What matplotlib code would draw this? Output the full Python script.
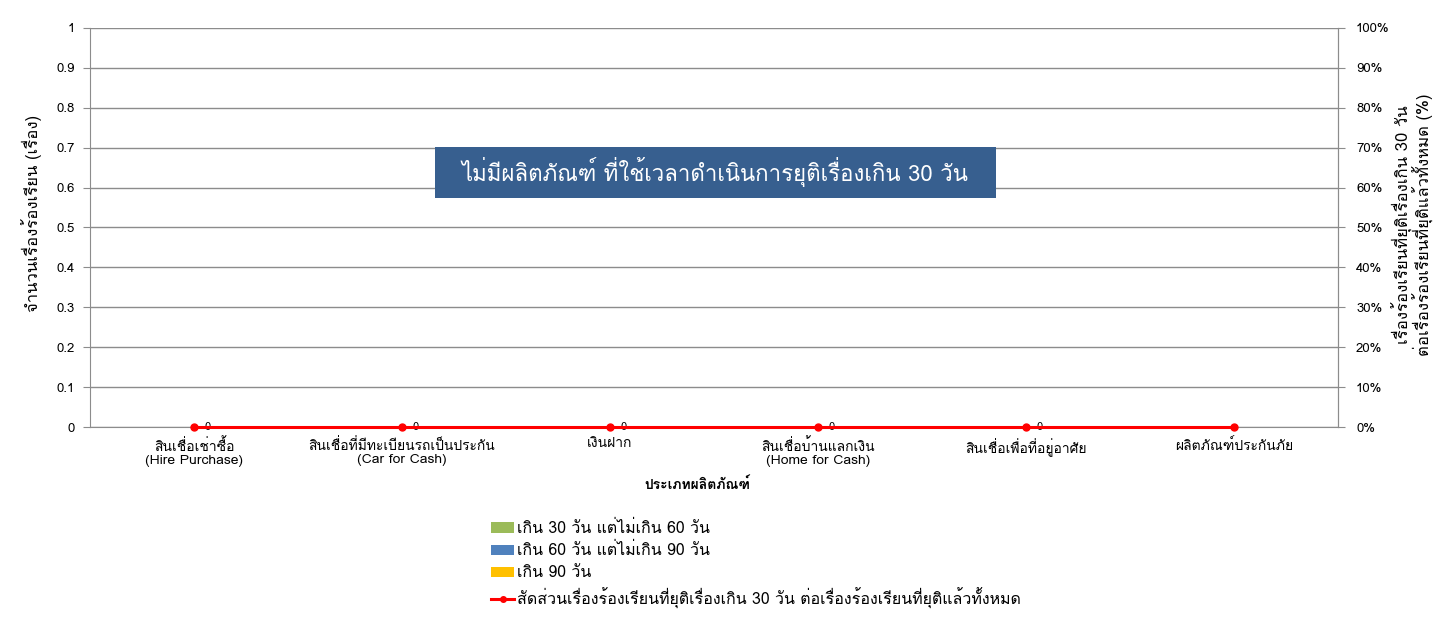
import matplotlib
matplotlib.use("Agg")
import matplotlib.pyplot as plt
import numpy as np
from matplotlib.patches import Patch, Rectangle
from matplotlib.lines import Line2D
from matplotlib.ticker import PercentFormatter, MultipleLocator, FuncFormatter

plt.rcParams['font.family'] = ['Loma', 'DejaVu Sans']

# ---- data ----
categories = [
    "สินเชื่อเช่าซื้อ\n(Hire Purchase)",
    "สินเชื่อที่มีทะเบียนรถเป็นประกัน\n(Car for Cash)",
    "เงินฝาก",
    "สินเชื่อบ้านแลกเงิน\n(Home for Cash)",
    "สินเชื่อเพื่อที่อยู่อาศัย",
    "ผลิตภัณฑ์ประกันภัย",
]
over_30_to_60 = [0, 0, 0, 0, 0, 0]
over_60_to_90 = [0, 0, 0, 0, 0, 0]
over_90 = [0, 0, 0, 0, 0, 0]
ratio_over_30 = [0, 0, 0, 0, 0, 0]
ratio_labels = ["0", "0", "0", "0", "0", ""]

series_names = ["เกิน 30 วัน แต่ไม่เกิน 60 วัน", "เกิน 60 วัน แต่ไม่เกิน 90 วัน", "เกิน 90 วัน"]
ratio_name = "สัดส่วนเรื่องร้องเรียนที่ยุติเรื่องเกิน 30 วัน ต่อเรื่องร้องเรียนที่ยุติแล้วทั้งหมด"
bar_colors = ['#9BBB59', '#4F81BD', '#FFC000']
grid_col = '#8C8C8C'

fig = plt.figure(figsize=(14.55, 6.19), dpi=100)
ax = fig.add_axes([90/1455, 192/619, 1248/1455, 399/619])
x = np.arange(len(categories))

# stacked bars (all zero here)
bottom = np.zeros(len(categories))
for vals, col in zip([over_30_to_60, over_60_to_90, over_90], bar_colors):
    ax.bar(x, vals, bottom=bottom, width=0.5, color=col)
    bottom += np.array(vals)

ax.set_xlim(-0.5, len(categories) - 0.5)
ax.set_ylim(0, 1)
ax.yaxis.set_major_locator(MultipleLocator(0.1))
ax.yaxis.set_major_formatter(FuncFormatter(lambda v, p: f"{round(v, 1):g}"))
ax.grid(axis='y', color=grid_col, linewidth=1)
ax.set_axisbelow(True)
ax.set_xticks(x)
ax.set_xticklabels(categories, fontsize=10, linespacing=1.15)
ax.tick_params(axis='x', length=0, pad=8)
ax.tick_params(axis='y', length=5, color=grid_col, labelsize=9.5, pad=6)
ax.spines['top'].set_visible(False)
for s in ['left', 'bottom', 'right']:
    ax.spines[s].set_color(grid_col)

ax2 = ax.twinx()
ax2.set_ylim(0, 1)
ax2.yaxis.set_major_locator(MultipleLocator(0.1))
ax2.yaxis.set_major_formatter(PercentFormatter(1.0, decimals=0))
ax2.tick_params(axis='y', length=5, color=grid_col, labelsize=9.5, pad=8)
ax2.spines['top'].set_visible(False)
ax2.spines['right'].set_color(grid_col)
ax2.spines['left'].set_visible(False)
ax2.spines['bottom'].set_visible(False)
ax2.plot(x, ratio_over_30, color='#FF0000', linewidth=2.2, marker='o', markersize=5, clip_on=False, zorder=5)
for xi, yi, lab in zip(x, ratio_over_30, ratio_labels):
    if lab:
        ax2.annotate(lab, (xi, yi), xytext=(10, 0), textcoords='offset points',
                     fontsize=8, va='center', ha='center')

# note box
fig.patches.append(Rectangle((435/1455, 1 - 198/619), 561/1455, 51/619, transform=fig.transFigure,
                             facecolor='#375F8F', edgecolor='none', zorder=10))
fig.text(715/1455, 1 - 172/619, "ไม่มีผลิตภัณฑ์ ที่ใช้เวลาดำเนินการยุติเรื่องเกิน 30 วัน",
         ha='center', va='center', fontsize=16, color='white', zorder=11)

fig.text(32/1455, 1 - 213/619, "จำนวนเรื่องร้องเรียน (เรื่อง)", rotation=90, ha='center', va='center', fontsize=12)
fig.text(1413/1455, 1 - 225/619,
         "เรื่องร้องเรียนที่ยุติเรื่องเกิน 30 วัน\nต่อเรื่องร้องเรียนที่ยุติแล้วทั้งหมด (%)",
         rotation=90, ha='center', va='center', fontsize=12, linespacing=1.0)
fig.text(697/1455, 1 - 485/619, "ประเภทผลิตภัณฑ์", ha='center', va='center', fontsize=10, fontweight='bold')

handles = [Patch(facecolor=c, edgecolor='none') for c in bar_colors]
handles.append(Line2D([0], [0], color='#FF0000', linewidth=2.2, marker='o', markersize=4))
fig.legend(handles, series_names + [ratio_name], loc='upper left',
           bbox_to_anchor=(491/1455, 1 - 521/619), frameon=False, fontsize=11.5,
           handlelength=1.45, handleheight=0.6, handletextpad=0.15, labelspacing=0.38,
           borderaxespad=0, borderpad=0)

fig.savefig("out.png", dpi=100)
